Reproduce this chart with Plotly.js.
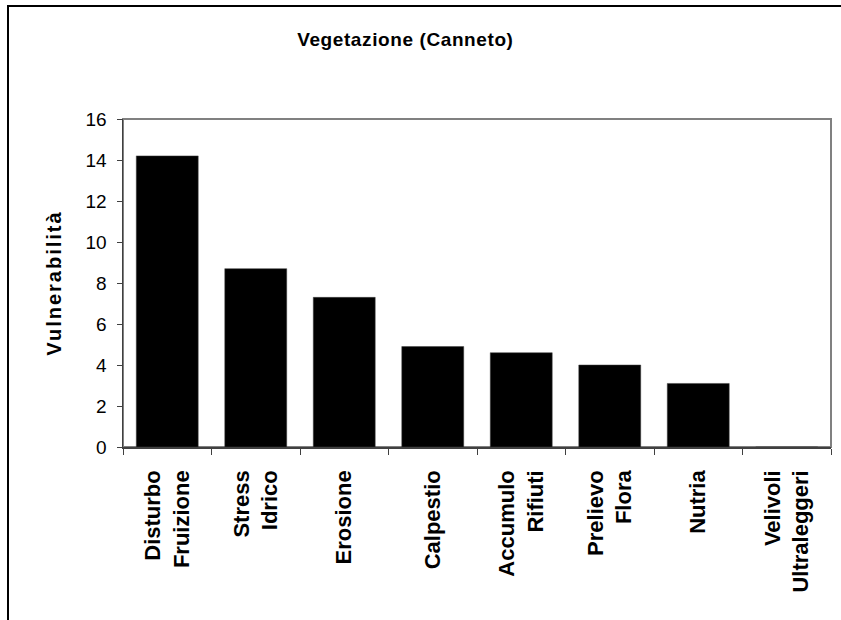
<!DOCTYPE html>
<html>
<head>
<meta charset="utf-8">
<script src="https://cdn.plot.ly/plotly-3.0.1.min.js"></script>
<style>
  html, body { margin: 0; padding: 0; background: #fff; }
  #wrap { position: relative; width: 841px; height: 620px; overflow: hidden; }
  #chart { width: 841px; height: 620px; }
  #frame { position: absolute; left: 7px; top: 5px; width: 900px; height: 700px;
           border-left: 2px solid #000; border-top: 2px solid #000; pointer-events: none; }
  #chart .ytitle { letter-spacing: 2px; }
  #chart .gtitle { letter-spacing: 0.6px; }
</style>
</head>
<body>
<div id="wrap">
  <div id="chart"></div>
  <div id="frame"></div>
</div>
<script>
// Data
const categories = ["Disturbo Fruizione", "Stress Idrico", "Erosione", "Calpestio",
                    "Accumulo Rifiuti", "Prelievo Flora", "Nutria", "Velivoli Ultraleggeri"];
const tickLabels = ["Disturbo<br>Fruizione", "Stress<br>Idrico", "Erosione", "Calpestio",
                    "Accumulo<br>Rifiuti", "Prelievo<br>Flora", "Nutria", "Velivoli<br>Ultraleggeri"];
const vulnerabilita = [14.2, 8.7, 7.3, 4.9, 4.6, 4.0, 3.1, 0];
const yTicks = [0, 2, 4, 6, 8, 10, 12, 14, 16];

const FONT = "Liberation Sans, Arial, sans-serif";

const trace = {
  type: "bar",
  x: categories,
  y: vulnerabilita,
  marker: { color: "#000000", line: { color: "#404040", width: 0.5 } },
  hoverinfo: "x+y"
};

const layout = {
  width: 841,
  height: 620,
  margin: { l: 123, r: 10, t: 119, b: 173 },
  paper_bgcolor: "#ffffff",
  plot_bgcolor: "#ffffff",
  showlegend: false,
  bargap: 0.3,
  font: { family: FONT, color: "#000" },
  title: {
    text: "<b>Vegetazione (Canneto)</b>",
    font: { family: FONT, size: 19, color: "#000" },
    xref: "container", x: 0.482, xanchor: "center",
    yref: "container", y: 0.937, yanchor: "middle"
  },
  xaxis: {
    type: "category",
    tickmode: "array",
    tickvals: categories,
    ticktext: tickLabels,
    tickangle: -90,
    tickfont: { family: FONT, size: 22, color: "#000", weight: "bold" },
    ticks: "outside",
    tickson: "boundaries",
    ticklen: 6,
    tickcolor: "#404040",
    ticklabelstandoff: 13,
    showline: true,
    linecolor: "#404040",
    linewidth: 1.5,
    showgrid: false,
    zeroline: false,
    automargin: false
  },
  yaxis: {
    range: [0, 16],
    tickmode: "array",
    tickvals: yTicks,
    ticktext: yTicks.map(String),
    tickfont: { family: FONT, size: 19, color: "#000" },
    ticks: "outside",
    ticklen: 5,
    tickcolor: "#404040",
    ticklabelstandoff: 6,
    showline: true,
    linecolor: "#404040",
    linewidth: 1.5,
    showgrid: false,
    zeroline: false,
    automargin: false,
    title: {
      text: "<b>Vulnerabilità</b>",
      font: { family: FONT, size: 20, color: "#000" },
      standoff: 18
    }
  },
  shapes: [{
    type: "rect", xref: "paper", yref: "paper",
    x0: 0, x1: 1, y0: 0, y1: 1,
    line: { color: "#808080", width: 2 },
    layer: "below"
  }]
};

Plotly.newPlot("chart", [trace], layout, { displayModeBar: false, staticPlot: true });
</script>
</body>
</html>
